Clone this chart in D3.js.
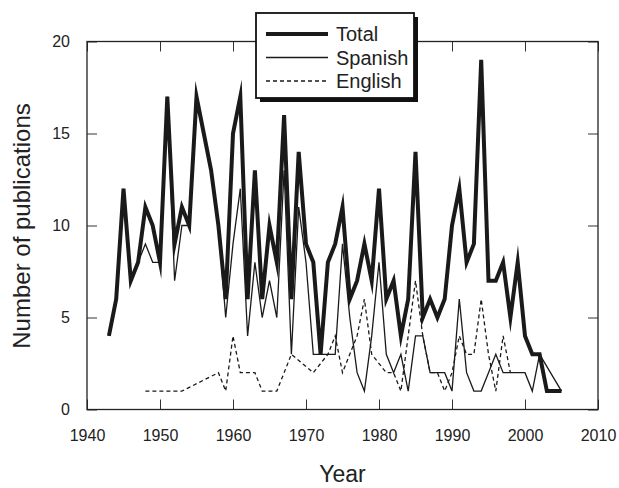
<!DOCTYPE html>
<html>
<head>
<meta charset="utf-8">
<style>
body { margin: 0; background: #fff; }
text { font-family: "Liberation Sans", Arial, sans-serif; fill: #222; }
</style>
</head>
<body>
<script src="https://d3js.org/d3.v7.min.js"></script>
<script>

// publications per year
var totalYears = [1943,1944,1945,1946,1947,1948,1949,1950,1951,1952,
	1953,1954,1955,1956,1957,1958,1959,1960,1961,1962,
	1963,1964,1965,1966,1967,1968,1969,1970,1971,1972,
	1973,1974,1975,1976,1977,1978,1979,1980,1981,1982,
	1983,1984,1985,1986,1987,1988,1989,1990,1991,1992,
	1993,1994,1995,1996,1997,1998,1999,2000,2001,2002,
	2003,2004,2005];
var totalValues = [4,6,12,7,8,11,10,8,17,9,
	11,10,17,15,13,10,6,15,17,6,
	13,6,10,8,16,6,14,9,8,3,
	8,9,11,6,7,9,7,12,6,7,
	4,6,14,5,6,5,6,10,12,8,
	9,19,7,7,8,5,8,4,3,3,
	1,1,1];

var spanishYears = [1943,1944,1945,1946,1947,1948,1949,1950,1951,1952,
	1953,1954,1955,1956,1957,1958,1959,1960,1961,1962,
	1963,1964,1965,1966,1967,1968,1969,1970,1971,1972,
	1973,1974,1975,1976,1977,1978,1979,1980,1981,1982,
	1983,1984,1985,1986,1987,1988,1989,1990,1991,1992,
	1993,1994,1995,1996,1997,1998,1999,2000,2001,2002,
	2005];
var spanishValues = [4,6,12,7,8,9,8,8,17,7,
	10,10,17,15,13,10,5,9,12,4,
	8,5,7,5,13,3,11,8,3,3,
	3,3,9,5,2,1,4,8,3,2,
	3,1,4,4,2,2,2,1,6,2,
	1,1,2,3,2,2,2,2,1,3,
	1];

var englishYears = [1948,1953,1958,1959,1960,1961,1962,1963,1964,1965,
	1966,1967,1968,1971,1973,1974,1975,1976,1977,1978,
	1979,1981,1982,1983,1984,1985,1986,1987,1988,1989,
	1990,1991,1992,1993,1994,1995,1996,1997,1998];
var englishValues = [1,1,2,1,4,2,2,2,1,1,
	1,2,3,2,3,4,2,3,4,6,
	3,2,2,1,4,7,4,2,2,1,
	2,4,3,3,6,3,1,4,2];

var xTicks = [1940,1950,1960,1970,1980,1990,2000,2010];
var yTicks = [0,5,10,15,20];

var margin = {top: 41.5, right: 21, bottom: 78.5, left: 87}
	, W = 619, H = 488
	, width = W - margin.left - margin.right
	, height = H - margin.top - margin.bottom;

var xScale = d3.scaleLinear().domain([1940, 2010]).range([0, width]);
var yScale = d3.scaleLinear().domain([0, 20]).range([height, 0]);

var svg = d3.select("body").append("svg")
	.attr("width", W)
	.attr("height", H)
  .append("g")
	.attr("transform", "translate(" + margin.left + "," + margin.top + ")");

function zip(ys, vs) { return ys.map((y, i) => ({year: y, value: vs[i]})); }

var line = d3.line()
	.x(d => xScale(d.year))
	.y(d => yScale(d.value));

// axes, ticks pointing inwards on all four sides
var gx = svg.append("g")
	.attr("transform", "translate(0," + height + ")")
	.call(d3.axisBottom(xScale).tickValues(xTicks).tickFormat(d3.format("d"))
		.tickSize(-10).tickPadding(20));
var gy = svg.append("g")
	.call(d3.axisLeft(yScale).tickValues(yTicks).tickSize(-10).tickPadding(17));
svg.append("g")
	.call(d3.axisTop(xScale).tickValues(xTicks).tickFormat("").tickSize(-10));
svg.append("g")
	.attr("transform", "translate(" + width + ",0)")
	.call(d3.axisRight(yScale).tickValues(yTicks).tickFormat("").tickSize(-10));

svg.selectAll(".domain").remove();
svg.selectAll(".tick line").attr("stroke", "#333").attr("stroke-width", 1);
svg.selectAll(".tick text").attr("font-size", 16).attr("fill", "#222")
	.attr("font-family", "Liberation Sans, Arial, sans-serif");

svg.append("rect")
	.attr("width", width).attr("height", height)
	.attr("fill", "none").attr("stroke", "#222").attr("stroke-width", 1.3);

// series
svg.append("path")
	.datum(zip(englishYears, englishValues))
	.attr("fill", "none").attr("stroke", "#1a1a1a")
	.attr("stroke-width", 1.3).attr("stroke-dasharray", "4,3")
	.attr("d", line);

svg.append("path")
	.datum(zip(spanishYears, spanishValues))
	.attr("fill", "none").attr("stroke", "#1a1a1a")
	.attr("stroke-width", 1.3)
	.attr("d", line);

svg.append("path")
	.datum(zip(totalYears, totalValues))
	.attr("fill", "none").attr("stroke", "#1a1a1a")
	.attr("stroke-width", 4)
	.attr("stroke-linejoin", "miter").attr("stroke-miterlimit", 10)
	.attr("d", line);

// axis titles
svg.append("text")
	.attr("x", width / 2).attr("y", 482 - margin.top)
	.attr("text-anchor", "middle").attr("font-size", 23)
	.text("Year");

svg.append("text")
	.attr("transform", "translate(" + (30 - margin.left) + "," + (226 - margin.top) + ") rotate(-90)")
	.attr("text-anchor", "middle").attr("font-size", 24)
	.text("Number of publications");

// legend box with drop shadow
var leg = svg.append("g")
	.attr("transform", "translate(" + (256 - margin.left) + "," + (13 - margin.top) + ")");
leg.append("rect")
	.attr("x", 4).attr("y", 4).attr("width", 158).attr("height", 85)
	.attr("fill", "#111");
leg.append("rect")
	.attr("width", 158).attr("height", 85)
	.attr("fill", "#fff").attr("stroke", "#111").attr("stroke-width", 1.8);

var legendItems = [
	{name: "Total", w: 4, dash: null},
	{name: "Spanish", w: 1.3, dash: null},
	{name: "English", w: 1.3, dash: "4,3"}
];
legendItems.forEach((d, i) => {
	var y = 21 + i * 23.5;
	leg.append("line")
		.attr("x1", 10).attr("x2", 72).attr("y1", y).attr("y2", y)
		.attr("stroke", "#1a1a1a").attr("stroke-width", d.w)
		.attr("stroke-dasharray", d.dash);
	leg.append("text")
		.attr("x", 80).attr("y", y + 7)
		.attr("font-size", 20)
		.text(d.name);
});

</script>
</body>
</html>
